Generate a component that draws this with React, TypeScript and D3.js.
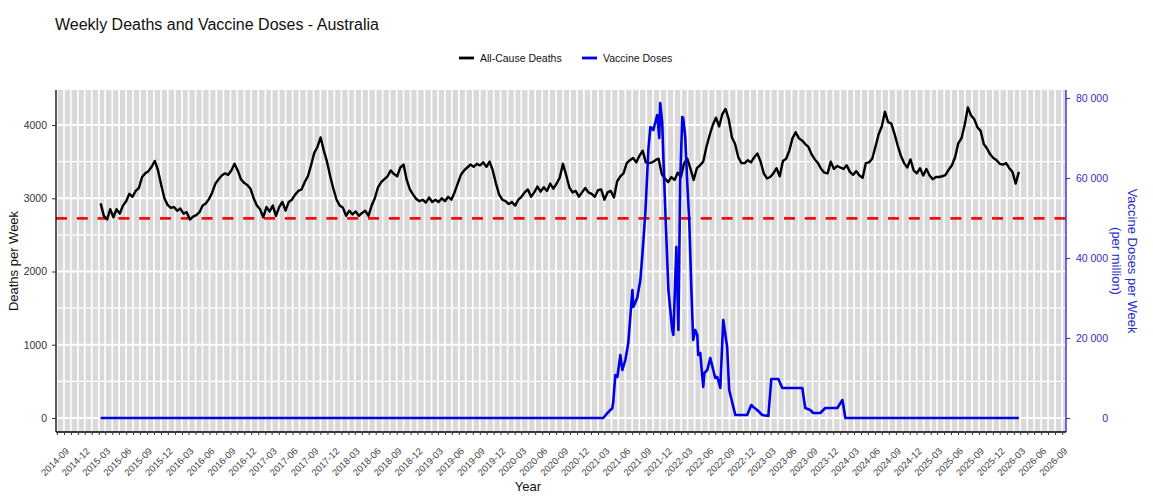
import React, { useEffect, useRef } from 'react';
import * as d3 from 'd3';

const WIDTH = 1153;
const HEIGHT = 497;
const FONT = '"Liberation Sans", Arial, Helvetica, sans-serif';

// all-cause deaths per week, one reading every second week from 9 Feb 2015
const deathsStart = '2015-02-09';
const deathsStepDays = 14;
const deaths = [
  2930, 2760, 2710, 2850, 2740, 2850, 2790, 2900, 2960, 3060,
  3020, 3100, 3140, 3290, 3340, 3370, 3430, 3510, 3380, 3180,
  3000, 2910, 2870, 2880, 2830, 2860, 2790, 2810, 2710, 2750,
  2770, 2810, 2900, 2930, 2990, 3080, 3200, 3260, 3310, 3340,
  3320, 3380, 3470, 3380, 3260, 3210, 3180, 3130, 3000, 2900,
  2850, 2740, 2880, 2820, 2900, 2760, 2880, 2950, 2830, 2950,
  2980, 3050, 3100, 3120, 3220, 3300, 3450, 3620, 3700, 3830,
  3650, 3500, 3300, 3130, 2980, 2900, 2870, 2760, 2830, 2780,
  2820, 2760, 2800, 2830, 2760, 2900, 3000, 3150, 3220, 3260,
  3300, 3380, 3330, 3300, 3420, 3460, 3250, 3120, 3050, 2990,
  2960, 2980, 2940, 3010, 2950, 2980, 2950, 3000, 2960, 3020,
  2980, 3080, 3200, 3320, 3380, 3420, 3460, 3430, 3470, 3450,
  3490, 3430, 3500, 3380, 3200, 3050, 2980, 2960, 2920, 2950,
  2900, 2980, 3020, 3080, 3120, 3020, 3080, 3160, 3090, 3150,
  3100, 3200, 3130, 3200, 3280, 3470, 3320, 3150, 3080, 3100,
  3020, 3080, 3140, 3080, 3060, 3020, 3110, 3120, 2980, 3080,
  3100, 3010, 3230, 3300, 3340, 3480, 3520, 3550, 3490, 3580,
  3650, 3490, 3480, 3490, 3520, 3540, 3330, 3270, 3220, 3290,
  3250, 3350, 3290, 3480, 3540, 3400, 3250, 3410, 3450, 3500,
  3700, 3860, 4000, 4100, 3980, 4150, 4220, 4080, 3830, 3740,
  3560, 3480, 3480, 3520, 3490, 3560, 3610, 3500, 3340, 3270,
  3290, 3340, 3410, 3300, 3510, 3540, 3650, 3820, 3900, 3820,
  3790, 3740, 3700, 3600, 3530, 3480, 3400, 3350, 3340, 3500,
  3400, 3440, 3420, 3400, 3450, 3360, 3320, 3370, 3310, 3280,
  3480, 3490, 3540, 3700, 3870, 3980, 4180, 4040, 4020, 3880,
  3720, 3580, 3480, 3420, 3530, 3380, 3340, 3410, 3310, 3400,
  3310, 3260, 3290, 3290, 3300, 3320, 3390, 3450, 3560, 3750,
  3820, 4000, 4240, 4130, 4080, 3970, 3920, 3740, 3680, 3600,
  3550, 3520, 3470, 3460, 3480, 3410, 3360, 3200, 3360,
];

// vaccine doses per week (per million), at the points where the weekly series turns
const vaccineDates = [
  '2015-02-09', '2021-02-24', '2021-03-14', '2021-04-05', '2021-04-09', '2021-04-18',
  '2021-04-27', '2021-05-10', '2021-05-19', '2021-06-01', '2021-06-14', '2021-07-02',
  '2021-07-06', '2021-07-23', '2021-08-06', '2021-08-14', '2021-08-28', '2021-09-10',
  '2021-09-19', '2021-10-02', '2021-10-11', '2021-10-19', '2021-10-28', '2021-11-01',
  '2021-11-10', '2021-11-15', '2021-11-23', '2021-12-07', '2021-12-24', '2021-12-29',
  '2022-01-11', '2022-01-20', '2022-01-28', '2022-02-06', '2022-02-10', '2022-02-19',
  '2022-02-28', '2022-03-09', '2022-03-18', '2022-03-26', '2022-04-04', '2022-04-13',
  '2022-04-17', '2022-04-26', '2022-05-09', '2022-05-14', '2022-05-27', '2022-06-09',
  '2022-06-22', '2022-07-01', '2022-07-10', '2022-07-23', '2022-08-05', '2022-08-22',
  '2022-08-31', '2022-09-14', '2022-09-27', '2022-11-18', '2022-12-06', '2022-12-15',
  '2023-01-01', '2023-01-23', '2023-02-19', '2023-03-04', '2023-04-04', '2023-04-21',
  '2023-07-18', '2023-07-31', '2023-08-22', '2023-09-04', '2023-10-05', '2023-10-27',
  '2023-12-19', '2024-01-10', '2024-01-14', '2024-01-23', '2026-02-23',
];
const vaccineDoses = [
  0, 0, 1200, 2500, 4000, 10750,
  10250, 15750, 12000, 14500, 18750, 32000,
  27750, 30000, 34500, 40250, 51250, 67000,
  72750, 72000, 74000, 75750, 70000, 78750,
  73750, 65250, 52750, 32000, 22000, 20750,
  42750, 22000, 59500, 75250, 75000, 70250,
  58750, 48750, 32000, 19500, 22000, 20750,
  15750, 16250, 7750, 11250, 12000, 15000,
  12000, 10000, 10250, 7500, 24500, 17750,
  7000, 3750, 750, 750, 3250, 2750,
  2000, 750, 500, 9750, 9750, 7500,
  7500, 2500, 2000, 1250, 1250, 2500,
  2500, 4500, 3250, 0, 0,
];

// pre-pandemic baseline level
const baselineDeaths = 2725;

const deathTicks = [0, 1000, 2000, 3000, 4000];
const deathMinorTicks = [500, 1500, 2500, 3500];
const doseTicks = [0, 20000, 40000, 60000, 80000];
const xStart = '2014-07-28';
const xEnd = '2026-09-18';

const legendItems = [
  { label: 'All-Cause Deaths', color: '#000000' },
  { label: 'Vaccine Doses', color: '#0000e6' },
];

export default function App() {
  const ref = useRef<SVGSVGElement>(null);

  useEffect(() => {
    const svg = d3.select(ref.current);
    svg.selectAll('*').remove();

    const parse = d3.timeParse('%Y-%m-%d');
    const margin = { top: 90, right: 87, bottom: 65, left: 56 };
    const left = margin.left;
    const right = WIDTH - margin.right;
    const top = margin.top;
    const bottom = HEIGHT - margin.bottom;

    const x = d3.scaleTime()
      .domain([parse(xStart)!, parse(xEnd)!])
      .range([left, right]);
    const yDeaths = d3.scaleLinear().domain([-191, 4478]).range([bottom, top]);
    const yDoses = d3.scaleLinear().domain([-3500, 82000]).range([bottom, top]);

    const deathsData = deaths.map((v, i) => ({
      date: d3.timeDay.offset(parse(deathsStart)!, i * deathsStepDays),
      value: v,
    }));
    const dosesData = vaccineDates.map((d, i) => ({ date: parse(d)!, value: vaccineDoses[i] }));

    // panel
    svg.append('rect')
      .attr('x', left).attr('y', top)
      .attr('width', right - left).attr('height', bottom - top)
      .attr('fill', '#d9d9d9');

    const months = d3.timeMonth.range(x.domain()[0], x.domain()[1]);
    svg.append('g').selectAll('line').data(months).join('line')
      .attr('x1', d => x(d)).attr('x2', d => x(d))
      .attr('y1', top).attr('y2', bottom)
      .attr('stroke', '#ffffff').attr('stroke-width', 1.7);

    svg.append('g').selectAll('line').data(deathMinorTicks).join('line')
      .attr('x1', left).attr('x2', right)
      .attr('y1', d => yDeaths(d)).attr('y2', d => yDeaths(d))
      .attr('stroke', '#ffffff').attr('stroke-width', 1.3);

    svg.append('g').selectAll('line').data(deathTicks).join('line')
      .attr('x1', left).attr('x2', right)
      .attr('y1', d => yDeaths(d)).attr('y2', d => yDeaths(d))
      .attr('stroke', '#ffffff').attr('stroke-width', 2);

    // baseline
    svg.append('line')
      .attr('x1', left).attr('x2', right)
      .attr('y1', yDeaths(baselineDeaths)).attr('y2', yDeaths(baselineDeaths))
      .attr('stroke', '#ee1111').attr('stroke-width', 2.6)
      .attr('stroke-dasharray', '11 9.8');

    const deathLine = d3.line<{ date: Date; value: number }>()
      .x(d => x(d.date)).y(d => yDeaths(d.value));
    svg.append('path').datum(deathsData)
      .attr('d', deathLine)
      .attr('fill', 'none').attr('stroke', '#000000')
      .attr('stroke-width', 2.4).attr('stroke-linejoin', 'round');

    const doseLine = d3.line<{ date: Date; value: number }>()
      .x(d => x(d.date)).y(d => yDoses(d.value));
    svg.append('path').datum(dosesData)
      .attr('d', doseLine)
      .attr('fill', 'none').attr('stroke', '#0000e6')
      .attr('stroke-width', 2.6).attr('stroke-linejoin', 'round');

    // left axis
    const leftAxis = svg.append('g')
      .attr('transform', `translate(${left},0)`)
      .call(d3.axisLeft(yDeaths).tickValues(deathTicks).tickSize(4).tickSizeOuter(0).tickPadding(5)
        .tickFormat(d3.format('d')));
    leftAxis.select('.domain').attr('d', `M0,${top}V${bottom}`).attr('stroke', '#000').attr('stroke-width', 1.3);
    leftAxis.selectAll('.tick line').attr('stroke', '#333');
    leftAxis.selectAll('.tick text').attr('fill', '#333').attr('font-size', 10.5).attr('font-family', FONT);

    // right axis
    const spaced = d3.formatLocale({ decimal: '.', thousands: ' ', grouping: [3], currency: ['', ''] }).format(',');
    const rightAxis = svg.append('g')
      .attr('transform', `translate(${right},0)`)
      .call(d3.axisRight(yDoses).tickValues(doseTicks).tickSize(4).tickSizeOuter(0).tickPadding(6)
        .tickFormat(d => spaced(d as number)));
    rightAxis.select('.domain').attr('d', `M0,${top}V${bottom}`).attr('stroke', '#2424d6').attr('stroke-width', 1.3);
    rightAxis.selectAll('.tick line').attr('stroke', '#2424d6');
    rightAxis.selectAll('.tick text')
      .attr('fill', '#3030c0').attr('font-size', 10.5).attr('font-family', FONT)
      .attr('text-anchor', 'end').attr('x', 42);

    // bottom axis, monthly ticks with quarterly labels
    const bottomAxis = svg.append('g')
      .attr('transform', `translate(0,${bottom})`)
      .call(d3.axisBottom(x).tickValues(months).tickSize(3).tickSizeOuter(0).tickFormat(() => ''));
    bottomAxis.select('.domain').attr('d', `M${left},0H${right}`).attr('stroke', '#000').attr('stroke-width', 1.3);
    bottomAxis.selectAll('.tick line').attr('stroke', '#333');

    const quarters = months.filter(d => d.getMonth() % 3 === 2);
    const fmt = d3.timeFormat('%Y-%m');
    svg.append('g').selectAll('text').data(quarters).join('text')
      .attr('transform', d => `translate(${x(d) + 1},${bottom + 15}) rotate(-45)`)
      .attr('text-anchor', 'end')
      .attr('dy', '0.71em')
      .attr('font-size', 9.5)
      .attr('font-family', FONT)
      .attr('fill', '#444')
      .text(d => fmt(d));

    // axis titles
    svg.append('text')
      .attr('x', 528).attr('y', 491)
      .attr('text-anchor', 'middle')
      .attr('font-size', 13).attr('font-family', FONT).attr('fill', '#111')
      .text('Year');

    svg.append('text')
      .attr('transform', `translate(13,${(top + bottom) / 2}) rotate(-90)`)
      .attr('text-anchor', 'middle').attr('dy', '0.35em')
      .attr('font-size', 13).attr('font-family', FONT).attr('fill', '#111')
      .text('Deaths per Week');

    const rightTitle = svg.append('g')
      .attr('transform', `translate(1125,${(top + bottom) / 2}) rotate(90)`)
      .attr('font-size', 13).attr('font-family', FONT).attr('fill', '#2a2ac8')
      .attr('text-anchor', 'middle');
    rightTitle.append('text').attr('y', -8).attr('dy', '0.35em').text('Vaccine Doses per Week');
    rightTitle.append('text').attr('y', 8).attr('dy', '0.35em').text('(per million)');

    // title
    svg.append('text')
      .attr('x', 55).attr('y', 30)
      .attr('font-size', 16).attr('font-family', FONT).attr('fill', '#111')
      .text('Weekly Deaths and Vaccine Doses - Australia');

    // legend
    const legend = svg.append('g').attr('font-family', FONT).attr('font-size', 10.5);
    const legendX = [459, 582];
    legendItems.forEach((item, i) => {
      const g = legend.append('g').attr('transform', `translate(${legendX[i]},58)`);
      g.append('line').attr('x1', 0).attr('x2', 15).attr('y1', 0).attr('y2', 0)
        .attr('stroke', item.color).attr('stroke-width', 2.8);
      g.append('text').attr('x', 21).attr('dy', '0.35em').attr('fill', '#111').text(item.label);
    });
  }, []);

  return (
    <svg
      ref={ref}
      width={WIDTH}
      height={HEIGHT}
      style={{ position: 'absolute', left: 0, top: 0, background: '#ffffff' }}
    />
  );
}
